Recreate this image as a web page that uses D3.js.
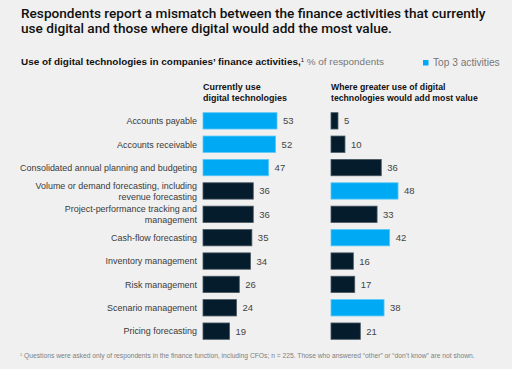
<!DOCTYPE html>
<html>
<head>
<meta charset="utf-8">
<script src="https://cdn.jsdelivr.net/npm/d3@7"></script>
<style>
  body { margin: 0; background: #f0f0f0; }
  svg { display: block; font-family: 'Liberation Sans', Arial, sans-serif; }
</style>
</head>
<body>
<div id="wrapper"></div>
<script>
// Data
const activities = [
  ['Accounts payable'],
  ['Accounts receivable'],
  ['Consolidated annual planning and budgeting'],
  ['Volume or demand forecasting, including', 'revenue forecasting'],
  ['Project-performance tracking and', 'management'],
  ['Cash-flow forecasting'],
  ['Inventory management'],
  ['Risk management'],
  ['Scenario management'],
  ['Pricing forecasting'],
];
const currentUse = [53, 52, 47, 36, 36, 35, 34, 26, 24, 19];
const greaterValue = [5, 10, 36, 48, 33, 42, 16, 17, 38, 21];
const topCurrent = [0, 1, 2];
const topValue = [3, 5, 8];

const blue = '#00a9f4';
const navy = '#051c2c';

const dimensions = {
  width: 512,
  height: 369,
  rowTop: 108,
  rowBottom: 344,
  leftX: 203,
  rightX: 331,
};

const svg = d3
  .select('#wrapper')
  .append('svg')
  .attr('width', dimensions.width)
  .attr('height', dimensions.height);

svg.append('rect')
  .attr('width', dimensions.width)
  .attr('height', dimensions.height)
  .attr('fill', '#f0f0f0');

// shrink/grow a text's font size so it spans the wanted width
function fitWidth(sel, wanted) {
  const size = parseFloat(sel.style('font-size'));
  const w = sel.node().getBBox().width;
  sel.style('font-size', (size * wanted) / w + 'px');
}

// Title
const title = svg.append('text')
  .attr('x', 21)
  .attr('y', 17.5)
  .attr('fill', '#111')
  .style('font-size', '14px')
  .style('font-weight', 500)
  .style('font-family', 'Roboto, sans-serif');
title.selectAll('tspan')
  .data([
    'Respondents report a mismatch between the finance activities that currently',
    'use digital and those where digital would add the most value.',
  ])
  .join('tspan')
  .attr('x', 21)
  .attr('dy', (d, i) => (i ? 15 : 0))
  .text((d) => d);
fitWidth(title, 465);

// Subtitle
const sub = svg.append('text')
  .attr('x', 21)
  .attr('y', 65)
  .style('font-size', '9.5px');
sub.append('tspan').attr('fill', '#111').style('font-weight', 'bold')
  .text('Use of digital technologies in companies\u2019 finance activities,');
sub.append('tspan').attr('fill', '#111').attr('dy', -3).style('font-size', '6px').text('1');
sub.append('tspan').attr('fill', '#777').attr('dy', 3).text(' % of respondents');
fitWidth(sub, 364);

// Legend
svg.append('rect')
  .attr('x', 423).attr('y', 60).attr('width', 5.5).attr('height', 5.5)
  .attr('fill', blue);
const legendText = svg.append('text')
  .attr('x', 433).attr('y', 65.5)
  .attr('fill', '#777')
  .style('font-size', '9.5px')
  .text('Top 3 activities');
fitWidth(legendText, 67);

// Column headers
const headers = [
  { x: dimensions.leftX, lines: ['Currently use', 'digital technologies'], w: 84 },
  { x: dimensions.rightX, lines: ['Where greater use of digital', 'technologies would add most value'], w: 147 },
];
headers.forEach((h) => {
  const t = svg.append('text')
    .attr('y', 90)
    .attr('fill', '#111')
    .style('font-size', '9px')
    .style('font-weight', 'bold');
  t.selectAll('tspan')
    .data(h.lines)
    .join('tspan')
    .attr('x', h.x)
    .attr('dy', (d, i) => (i ? 10.5 : 0))
    .text((d) => d);
  fitWidth(t, h.w);
});

// Scales
const yScale = d3.scaleBand()
  .domain(d3.range(activities.length))
  .range([dimensions.rowTop, dimensions.rowBottom])
  .paddingInner(0.3)
  .paddingOuter(0.2);

const xScale = d3.scaleLinear()
  .domain([0, 53])
  .range([0, 74]);

// Row labels
const labels = svg.append('g')
  .selectAll('text')
  .data(activities)
  .join('text')
  .attr('text-anchor', 'end')
  .attr('fill', '#3a3a3a')
  .style('font-size', '9px')
  .attr('y', (d, i) => yScale(i) + yScale.bandwidth() / 2 + 3.3 - (d.length - 1) * 5.5);
labels.selectAll('tspan')
  .data((d) => d)
  .join('tspan')
  .attr('x', 197)
  .attr('dy', (d, i) => (i ? 11 : 0))
  .text((d) => d);
labels.filter((d, i) => i === 2).call(fitWidth, 177);
const fittedSize = parseFloat(labels.filter((d, i) => i === 2).style('font-size'));
labels.style('font-size', fittedSize + 'px');

// Bars
function drawColumn(values, tops, x0) {
  const g = svg.append('g').attr('transform', `translate(${x0},0)`);
  g.selectAll('rect')
    .data(values)
    .join('rect')
    .attr('x', 0)
    .attr('y', (d, i) => yScale(i))
    .attr('width', (d) => xScale(d))
    .attr('height', yScale.bandwidth())
    .attr('fill', (d, i) => (tops.includes(i) ? blue : navy))
    .attr('stroke', (d, i) => (tops.includes(i) ? '#5cc8f7' : '#4a5862'))
    .attr('stroke-width', 0.8);
  g.selectAll('text.value')
    .data(values)
    .join('text')
    .attr('class', 'value')
    .attr('x', (d) => xScale(d) + 6)
    .attr('y', (d, i) => yScale(i) + yScale.bandwidth() / 2 + 3.5)
    .attr('fill', '#444')
    .style('font-size', '9.5px')
    .text((d) => d);
}
drawColumn(currentUse, topCurrent, dimensions.leftX);
drawColumn(greaterValue, topValue, dimensions.rightX);

// Footnote
const foot = svg.append('text')
  .attr('x', 20)
  .attr('y', 358)
  .attr('fill', '#808080')
  .style('font-size', '6.5px');
foot.append('tspan').attr('dy', -2).style('font-size', '4px').text('1');
foot.append('tspan').attr('dy', 2)
  .text(' Questions were asked only of respondents in the finance function, including CFOs; n = 225. Those who answered \u201cother\u201d or \u201cdon\u2019t know\u201d are not shown.');
fitWidth(foot, 456);
</script>
</body>
</html>
